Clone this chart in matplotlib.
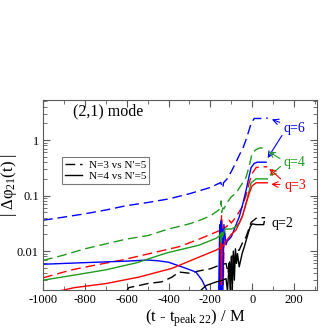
import matplotlib
matplotlib.use("Agg")
import matplotlib.pyplot as plt
from matplotlib.ticker import MultipleLocator, LogLocator, NullFormatter, FixedLocator

plt.rcParams['font.family'] = ['Liberation Serif', 'DejaVu Serif']
plt.rcParams['mathtext.fontset'] = 'custom'
plt.rcParams['mathtext.rm'] = 'Liberation Serif'
plt.rcParams['mathtext.it'] = 'Liberation Serif:italic'
plt.rcParams['axes.unicode_minus'] = False

# ---- data (t - t_peak, |dphi_21|) ----
q6_n3_t = [-1000, -900, -800, -700, -600, -500, -400, -300, -200, -150, -145, -140, -137,
           -120, -100, -80, -60, -45, -30, -15, -5, 10, 30, 60, 75]
q6_n3_v = [0.036, 0.041, 0.047, 0.055, 0.066, 0.075, 0.087, 0.108, 0.14, 0.172, 0.15, 0.137, 0.17,
           0.2, 0.27, 0.38, 0.55, 0.7, 1.0, 1.5, 2.0, 2.45, 2.45, 2.45, 2.5]

q4_n3_t = [-1000, -900, -800, -700, -600, -500, -400, -300, -250, -200, -160, -150, -148, -146,
           -140, -135, -120, -100, -77, -60, -45, -29, -15, 0, 15, 35, 60, 72]
q4_n3_v = [0.0068, 0.0085, 0.011, 0.0135, 0.0165, 0.019, 0.025, 0.031, 0.036, 0.043, 0.055, 0.06, 0.08, 0.05,
           0.06, 0.058, 0.075, 0.095, 0.11, 0.14, 0.17, 0.215, 0.33, 0.58, 0.66, 0.72, 0.72, 0.70]

q3_n3_t = [-1000, -863, -750, -623, -460, -350, -254, -173, -150, -146, -142, -138, -134,
           -120, -110, -100, -80, -48, -30, -14, 0, 19, 40, 72]
q3_n3_v = [0.0033, 0.0046, 0.0056, 0.0069, 0.0096, 0.012, 0.0164, 0.022, 0.024, 0.045, 0.022, 0.0025, 0.026,
           0.028, 0.036, 0.032, 0.04, 0.062, 0.1, 0.17, 0.25, 0.32, 0.33, 0.33]

q2_n3_t = [-600, -590, -542, -500, -432, -383, -350, -300, -254, -200, -160, -125, -115, -110,
           -100, -95, -85, -77, -62, -43, -29, -5, 19, 40, 62]
q2_n3_v = [0.0019, 0.0022, 0.0024, 0.0026, 0.0028, 0.0034, 0.0042, 0.004, 0.0044, 0.0048, 0.0055, 0.006, 0.004, 0.007,
           0.0045, 0.009, 0.007, 0.0104, 0.0104, 0.015, 0.018, 0.033, 0.039, 0.04, 0.04]

q6_n4_t = [-1000, -800, -600, -500, -450, -400, -336, -269, -240, -215, -160, -155, -152, -150, -147,
           -143, -140, -135, -125, -120, -100, -80, -62, -45, -29, -15, -5, 10, 25, 67]
q6_n4_v = [0.0058, 0.0062, 0.0066, 0.0069, 0.0067, 0.0063, 0.0052, 0.0042, 0.003, 0.0019, 0.0019, 0.03, 0.0019, 0.035, 0.0019,
           0.025, 0.0019, 0.03, 0.013, 0.015, 0.018, 0.028, 0.041, 0.07, 0.125, 0.22, 0.32, 0.38, 0.4, 0.4]

q4_n4_t = [-1000, -850, -700, -550, -412, -254, -173, -155, -150, -148, -145, -142, -130,
           -100, -80, -62, -45, -29, -5, 19, 72]
q4_n4_v = [0.003, 0.0037, 0.0046, 0.0062, 0.0092, 0.0128, 0.017, 0.019, 0.021, 0.014, 0.022, 0.018, 0.025,
           0.025, 0.027, 0.032, 0.045, 0.073, 0.17, 0.2, 0.2]

q3_n4_t = [-925, -850, -700, -542, -383, -254, -173, -152, -149, -147, -144, -135, -120,
           -100, -77, -48, -30, -14, 0, 19, 72]
q3_n4_v = [0.0019, 0.0022, 0.0026, 0.0034, 0.0049, 0.0078, 0.0104, 0.0115, 0.014, 0.0025, 0.012, 0.013, 0.016,
           0.02, 0.024, 0.041, 0.07, 0.11, 0.15, 0.17, 0.17]

q2_n4_t = [-250, -220, -170, -140, -125, -118, -110, -105, -100, -95, -90, -85, -80, -75, -70,
           -62, -48, -38, -24, -10, 0, 19, 43, 55, 58]
q2_n4_v = [0.0019, 0.0024, 0.0028, 0.003, 0.0032, 0.0019, 0.006, 0.0019, 0.008, 0.0019, 0.01, 0.003, 0.011, 0.006, 0.009,
           0.0052, 0.009, 0.0118, 0.018, 0.027, 0.031, 0.03, 0.03, 0.03, 0.034]

blue = '#0000ff'
green = '#1f9b1f'
red = '#ff0000'
black = '#000000'
dash = (7, 3.5)

fig = plt.figure(figsize=(3.34, 3.34), dpi=100)
ax = fig.add_axes([0.129, 0.132, 0.820, 0.569])

ax.plot(q6_n3_t, q6_n3_v, color=blue, lw=1.0, dashes=dash)
ax.plot(q4_n3_t, q4_n3_v, color=green, lw=1.0, dashes=dash)
ax.plot(q3_n3_t, q3_n3_v, color=red, lw=1.0, dashes=dash)
ax.plot(q2_n3_t, q2_n3_v, color=black, lw=1.0, dashes=dash)
ax.plot(q6_n4_t, q6_n4_v, color=blue, lw=1.0)
ax.plot(q4_n4_t, q4_n4_v, color=green, lw=1.0)
ax.plot(q3_n4_t, q3_n4_v, color=red, lw=1.0)
ax.plot(q2_n4_t, q2_n4_v, color=black, lw=1.0)

# legend entries drawn in black
h1, = ax.plot([], [], color='k', lw=1.0, dashes=dash, label="N=3 vs N'=5")
h2, = ax.plot([], [], color='k', lw=1.0, label="N=4 vs N'=5")
leg = ax.legend(handles=[h1, h2], loc='upper left', bbox_to_anchor=(0.069, 0.70),
                fontsize=8, frameon=True, fancybox=False, handlelength=1.5,
                handletextpad=0.6, borderpad=0.3, labelspacing=0.1, borderaxespad=0)
leg.get_frame().set_edgecolor('0.35')
leg.get_frame().set_linewidth(0.8)

ax.set_yscale('log')
ax.set_xlim(-1000, 310)
ax.set_ylim(0.002, 5.3)

ax.xaxis.set_major_locator(MultipleLocator(200))
ax.xaxis.set_minor_locator(MultipleLocator(100))
ax.yaxis.set_major_locator(FixedLocator([0.01, 0.1, 1]))
ax.yaxis.set_minor_locator(LogLocator(base=10, subs=range(2, 10)))
ax.yaxis.set_minor_formatter(NullFormatter())
ax.set_yticklabels(['0.01', '0.1', '1'])
ax.tick_params(which='both', direction='in', top=True, right=True, color='0.35', labelsize=9)
ax.tick_params(which='major', length=5, width=0.8, pad=3)
ax.tick_params(which='minor', length=3, width=0.6)
for s in ax.spines.values():
    s.set_color('0.35')
    s.set_linewidth(0.8)

ax.set_xlabel('(t - t$_{\\rm peak\\ 22}$) / M', fontsize=12)
ax.xaxis.set_label_coords(0.555, -0.09)
ax.set_ylabel('| Δφ$_{21}$(t) |', fontsize=12)
ax.yaxis.set_label_coords(-0.088, 0.55)

ax.text(0.11, 0.937, '(2,1) mode', transform=ax.transAxes, fontsize=11.5, ha='left', va='center')

# q labels with arrows
ax.text(150, 1.64, 'q=6', color=blue, fontsize=10, va='center')
ax.annotate('', xy=(82, 2.46), xytext=(144, 2.0),
            arrowprops=dict(arrowstyle='->', color=blue, lw=0.8))
ax.annotate('', xy=(67, 0.43), xytext=(150, 1.34),
            arrowprops=dict(arrowstyle='->', color=blue, lw=0.8))

ax.text(150, 0.40, 'q=4', color=green, fontsize=10, va='center')
ax.annotate('', xy=(67, 0.66), xytext=(144, 0.44),
            arrowprops=dict(arrowstyle='->', color=green, lw=0.8))
ax.annotate('', xy=(72, 0.21), xytext=(146, 0.36),
            arrowprops=dict(arrowstyle='->', color=green, lw=0.8))

ax.text(155, 0.155, 'q=3', color=red, fontsize=10, va='center')
ax.annotate('', xy=(72, 0.33), xytext=(146, 0.185),
            arrowprops=dict(arrowstyle='->', color=red, lw=0.8))
ax.annotate('', xy=(78, 0.16), xytext=(146, 0.158),
            arrowprops=dict(arrowstyle='->', color=red, lw=0.8))

ax.text(92, 0.032, 'q=2', color=black, fontsize=10, va='center')

fig.savefig('out.png', dpi=100)
